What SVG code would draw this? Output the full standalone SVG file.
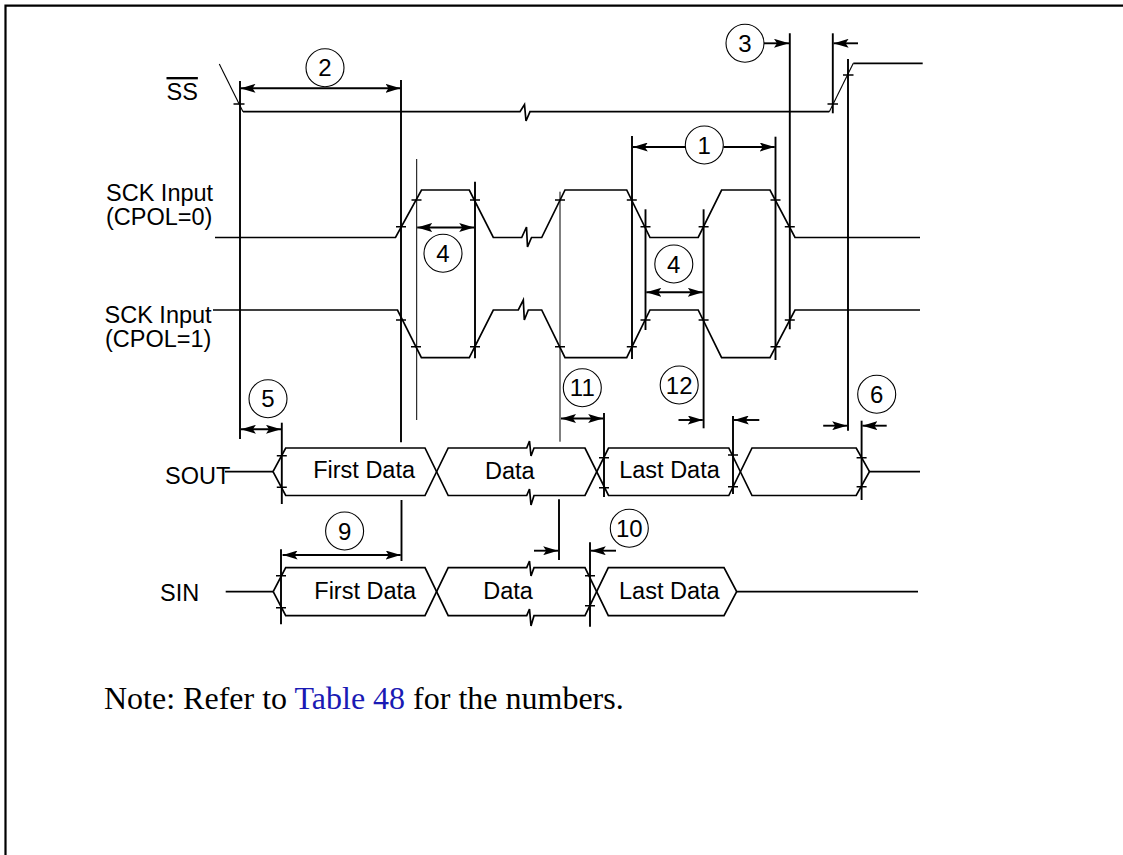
<svg xmlns="http://www.w3.org/2000/svg" width="1123" height="855" viewBox="0 0 1123 855">
<style>
  .frame{fill:none;stroke:#000;stroke-width:2.2}
  .sig{fill:none;stroke:#000;stroke-width:1.7;stroke-linejoin:miter}
  .slant{fill:none;stroke:#000;stroke-width:1.1}
  .ref{fill:none;stroke:#000;stroke-width:1.9}
  .thin{fill:none;stroke:#000;stroke-width:1}
  .tick{fill:none;stroke:#000;stroke-width:1.5}
  .dim{fill:none;stroke:#000;stroke-width:1.9}
  .circ{fill:#fff;stroke:#000;stroke-width:1.1}
  .lbl{font-family:"Liberation Sans",Arial,sans-serif;font-size:23.5px;fill:#000}
  .num{font-family:"Liberation Sans",Arial,sans-serif;font-size:24px;fill:#000;text-anchor:middle}
  .note{font-family:"Liberation Serif","Times New Roman",serif;font-size:32px;fill:#000}
  .link{fill:#1a1ab4}
</style>
<defs>
  <marker id="ah" viewBox="0 0 15 9" refX="15" refY="4.5" markerWidth="15" markerHeight="9" markerUnits="userSpaceOnUse" orient="auto-start-reverse">
    <path d="M0,0 L15,4.5 L0,9 L3,4.5 z" fill="#000"/>
  </marker>
</defs>
<rect width="1123" height="855" fill="#fff"/>
<path class="frame" d="M5.5,855 L5.5,5.7 L1123,5.7"/>

<g id="labels">
  <text class="lbl" x="166.5" y="100" style="text-decoration:overline">SS</text>
  <text class="lbl" x="106" y="201">SCK Input</text>
  <text class="lbl" x="106" y="224.5">(CPOL=0)</text>
  <text class="lbl" x="104.5" y="322.8">SCK Input</text>
  <text class="lbl" x="105" y="346.5">(CPOL=1)</text>
  <text class="lbl" x="165" y="484">SOUT</text>
  <text class="lbl" x="160" y="600.7">SIN</text>
</g>

<g id="guides">
  <path class="ref" d="M240,81 V439"/>
  <path class="ref" d="M401,80 V442.3"/>
  <path class="thin" d="M416.7,159 V420"/>
  <path class="ref" d="M475,181.7 V358.3"/>
  <path class="thin" d="M560,191.7 V441.7"/>
  <path class="ref" d="M632,136 V359"/>
  <path class="ref" d="M645.5,209.3 V330"/>
  <path class="ref" d="M703.6,209.3 V428.3"/>
  <path class="ref" d="M775.5,136.7 V360"/>
  <path class="ref" d="M789.8,33.3 V329.3"/>
  <path class="ref" d="M832.8,33.3 V113.3"/>
  <path class="ref" d="M848,59 V430.7"/>
  <path class="ref" d="M281.8,422.7 V504"/>
  <path class="ref" d="M604,413 V497"/>
  <path class="ref" d="M733,416 V494"/>
  <path class="ref" d="M861.6,420.7 V500"/>
  <path class="ref" d="M401.5,500 V561"/>
  <path class="ref" d="M559,499.3 V560"/>
  <path class="ref" d="M281,549.3 V624.3"/>
  <path class="ref" d="M590,542.3 V626.7"/>
</g>

<g id="ss">
  <path class="slant" d="M219.3,64 L243,111.7"/>
  <path class="sig" d="M243,111.7 L520,111.7 L524.5,104.5 L526,121 L530,111.7 L829.3,111.7"/>
  <path class="slant" d="M829.3,111.7 L853.3,63.3"/>
  <path class="sig" d="M853.3,63.3 L922.7,63.3"/>
  <path class="tick" d="M233.5,104 h11 M827.5,104 h10.5 M843,75 h10.5"/>
</g>

<g id="sck0">
  <path class="sig" d="M215,237.5 L395.5,237.5 L421.5,190 L469.3,190 L493.3,237.5 L521.7,237.5 L526.5,227 L527.5,247 L531.5,237.5 L541.7,237.5 L565,190 L626.7,190 L650,237.5 L698.2,237.5 L721.6,190 L770,190 L795,237.5 L920,237.5"/>
  <path class="tick" d="M396,226.7 h10 M640.5,226.7 h10 M698.6,226.7 h10 M784.8,226.7 h10 M411.5,200 h10 M470,200 h10 M555,200 h10 M626.8,200 h10 M770.5,200 h10"/>
</g>

<g id="sck1">
  <path class="sig" d="M213,310 L397.5,310 L421.4,357.7 L469.3,357.7 L493.3,310 L518.3,310 L523.3,300 L524.3,320 L528.3,310 L541.7,310 L565,357.7 L626.7,357.7 L650,310 L698.2,310 L721.6,357.7 L770,357.7 L795,310 L920,310"/>
  <path class="tick" d="M396,320 h10 M640.5,320 h10 M698.6,320 h10 M784.8,320 h10 M411,346.7 h10 M470,346.7 h10 M555,346.7 h10 M626.8,346.7 h10 M770.5,346.7 h10"/>
</g>

<g id="sout">
  <path class="sig" d="M225,471.7 L273,471.7"/>
  <path class="sig" d="M273,471.7 L285.7,448 L425,448 L448.2,495.5 L526.7,495.5 L529.5,489 L531,505 L534,495.5 L585,495.5 L608.5,448 L728.8,448 L752,495.5 L856.2,495.5 L869.5,471.7 L920,471.7"/>
  <path class="sig" d="M273,471.7 L285.7,495.5 L425,495.5 L448.2,448 L526.7,448 L529.5,441 L531,456 L534,448 L585,448 L608.5,495.5 L728.8,495.5 L752,448 L856.2,448 L869.5,471.7"/>
  <path class="tick" d="M276.8,455.7 h10 M276.8,487.3 h10 M599,457.7 h10 M599,487.7 h10 M728,455 h10 M728,486.7 h10 M856.6,457.7 h10 M856.6,486.7 h10"/>
  <text class="lbl" x="313.2" y="477.5">First Data</text>
  <text class="lbl" x="485" y="478.5">Data</text>
  <text class="lbl" x="619.2" y="478.3">Last Data</text>
</g>

<g id="sin">
  <path class="sig" d="M225.7,591.7 L273.2,591.7"/>
  <path class="sig" d="M273.2,591.7 L285.7,567.7 L425,567.7 L448.2,615.7 L526.7,615.7 L529.5,609 L531,626 L534,615.7 L585,615.7 L608.3,567.7 L724,567.7 L736.7,591.7 L918,591.7"/>
  <path class="sig" d="M273.2,591.7 L285.7,615.7 L425,615.7 L448.2,567.7 L526.7,567.7 L529.5,561 L531,576 L534,567.7 L585,567.7 L608.3,615.7 L724,615.7 L736.7,591.7"/>
  <path class="tick" d="M276,575.7 h10 M276,607.7 h10 M585,575.7 h10 M585,605.7 h10"/>
  <text class="lbl" x="314.3" y="599.3">First Data</text>
  <text class="lbl" x="483.3" y="598.5">Data</text>
  <text class="lbl" x="619" y="599">Last Data</text>
</g>

<g id="connectors">
  <path class="dim" d="M240.5,88.3 L400.5,88.3" marker-start="url(#ah)" marker-end="url(#ah)"/>
  <path class="dim" d="M764,43.3 L789,43.3" marker-end="url(#ah)"/>
  <path class="dim" d="M858,43.3 L833.6,43.3" marker-end="url(#ah)"/>
  <path class="dim" d="M685,147 L632.8,147" marker-end="url(#ah)"/>
  <path class="dim" d="M723.4,147 L774.7,147" marker-end="url(#ah)"/>
  <path class="dim" d="M417.2,227.5 L474.2,227.5" marker-start="url(#ah)" marker-end="url(#ah)"/>
  <path class="dim" d="M646.3,292.3 L702.8,292.3" marker-start="url(#ah)" marker-end="url(#ah)"/>
  <path class="dim" d="M240.9,429.3 L281,429.3" marker-start="url(#ah)" marker-end="url(#ah)"/>
  <path class="dim" d="M561,418.5 L603.2,418.5" marker-start="url(#ah)" marker-end="url(#ah)"/>
  <path class="dim" d="M678.5,420 L702.8,420" marker-end="url(#ah)"/>
  <path class="dim" d="M759.3,420 L733.8,420" marker-end="url(#ah)"/>
  <path class="dim" d="M823.2,425.7 L847.2,425.7" marker-end="url(#ah)"/>
  <path class="dim" d="M886.7,425.7 L862.4,425.7" marker-end="url(#ah)"/>
  <path class="dim" d="M282.6,555 L400.7,555" marker-start="url(#ah)" marker-end="url(#ah)"/>
  <path class="dim" d="M534,550.7 L558.2,550.7" marker-end="url(#ah)"/>
  <path class="dim" d="M616,550.7 L590.8,550.7" marker-end="url(#ah)"/>
</g>

<g id="num2"><circle class="circ" cx="325" cy="67.7" r="19"/><text class="num" x="325" y="76.3">2</text></g>
<g id="num3"><circle class="circ" cx="745" cy="43.3" r="19"/><text class="num" x="745" y="51.9">3</text></g>
<g id="num1"><circle class="circ" cx="704.3" cy="145" r="19"/><text class="num" x="704.3" y="153.6">1</text></g>
<g id="num4a"><circle class="circ" cx="443" cy="253.3" r="19"/><text class="num" x="443" y="261.9">4</text></g>
<g id="num4b"><circle class="circ" cx="673.8" cy="264" r="19"/><text class="num" x="673.8" y="272.6">4</text></g>
<g id="num5"><circle class="circ" cx="268" cy="398.7" r="19"/><text class="num" x="268" y="407.3">5</text></g>
<g id="num11"><circle class="circ" cx="582.3" cy="387.7" r="19"/><text class="num" x="582.3" y="396.3">11</text></g>
<g id="num12"><circle class="circ" cx="679.2" cy="385" r="19"/><text class="num" x="679.2" y="393.6">12</text></g>
<g id="num6"><circle class="circ" cx="876.7" cy="394.3" r="19"/><text class="num" x="876.7" y="402.9">6</text></g>
<g id="num9"><circle class="circ" cx="344.6" cy="531" r="19"/><text class="num" x="344.6" y="539.6">9</text></g>
<g id="num10"><circle class="circ" cx="629.3" cy="528.3" r="19"/><text class="num" x="629.3" y="536.9">10</text></g>

<g id="note">
  <text class="note" x="104" y="709">Note: Refer to <tspan class="link">Table 48</tspan> for the numbers.</text>
</g>
</svg>
